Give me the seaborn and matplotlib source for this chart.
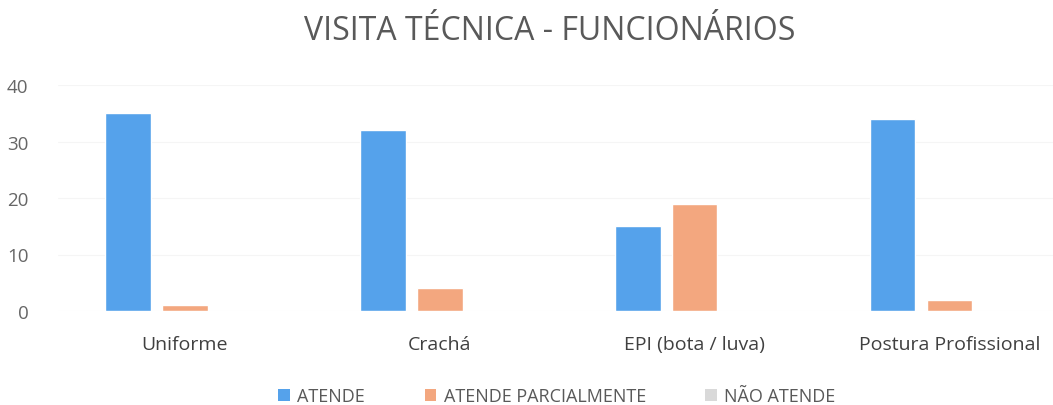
import matplotlib
matplotlib.use("Agg")
import matplotlib.pyplot as plt
import seaborn as sns
import pandas as pd
from matplotlib.patches import Patch

# dados do gráfico
categorias = ["Uniforme", "Crachá", "EPI (bota / luva)", "Postura Profissional"]
series = ["ATENDE", "ATENDE PARCIALMENTE", "NÃO ATENDE"]
atende = [35, 32, 15, 34]
atende_parcial = [1, 4, 19, 2]
nao_atende = [0, 0, 0, 0]
cores = ["#55A2EB", "#F3A77F", "#D9D9D9"]

linhas = []
for nome, valores in zip(series, [atende, atende_parcial, nao_atende]):
    for cat, v in zip(categorias, valores):
        linhas.append({"categoria": cat, "serie": nome, "valor": v})
df = pd.DataFrame(linhas)

sns.set_style("white")
plt.rcParams["font.family"] = ["Open Sans", "DejaVu Sans"]

W, H = 1053, 406
fig = plt.figure(figsize=(W / 100, H / 100), dpi=100)
esq, dir_, base, topo = 57.5, 1077, 312, 86
ax = fig.add_axes([esq / W, (H - base) / H, (dir_ - esq) / W, (base - topo) / H])

sns.barplot(data=df, x="categoria", y="valor", hue="serie", palette=cores,
            width=0.67, gap=0.2, ax=ax, legend=False, saturation=1)

ax.set_ylim(0, 40)
ax.set_xlim(-0.5, 3.5)
ax.set_yticks([0, 10, 20, 30, 40])
ax.yaxis.grid(True, color="#F5F5F5", linewidth=0.8)
ax.set_axisbelow(True)
sns.despine(ax=ax, left=True, bottom=True)
ax.set_xlabel("")
ax.set_ylabel("")
ax.tick_params(axis="y", length=0, pad=21, labelsize=13.5, labelcolor="#666666")
ax.tick_params(axis="x", length=0, pad=17, labelsize=14, labelcolor="#404040")

fig.text(550 / W, 1 - 31 / H, "VISITA TÉCNICA - FUNCIONÁRIOS", ha="center", va="center",
         fontsize=23, color="#595959")

handles = [Patch(facecolor=c, edgecolor="none") for c in cores]
fig.legend(handles, series, loc="center", bbox_to_anchor=(557 / W, 1 - 397 / H),
           ncol=3, frameon=False, fontsize=13, labelcolor="#595959",
           handlelength=0.65, handleheight=0.65, handletextpad=0.4, columnspacing=3.3)

fig.savefig("out.png", dpi=100)
